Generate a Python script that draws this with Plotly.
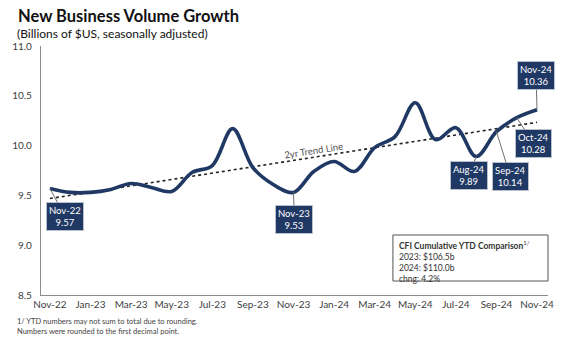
import numpy as np
import plotly.graph_objects as go

months = ["Nov-22", "Dec-22", "Jan-23", "Feb-23", "Mar-23", "Apr-23", "May-23", "Jun-23",
          "Jul-23", "Aug-23", "Sep-23", "Oct-23", "Nov-23", "Dec-23", "Jan-24", "Feb-24",
          "Mar-24", "Apr-24", "May-24", "Jun-24", "Jul-24", "Aug-24", "Sep-24", "Oct-24", "Nov-24"]
volume = [9.57, 9.53, 9.53, 9.56, 9.62, 9.58, 9.54, 9.73, 9.80, 10.17, 9.78, 9.61, 9.53,
          9.74, 9.84, 9.74, 9.98, 10.09, 10.43, 10.06, 10.18, 9.89, 10.14, 10.28, 10.36]
tick_labels = months[::2]
labelled = ["Nov-22", "Nov-23", "Aug-24", "Sep-24", "Oct-24", "Nov-24"]
label_offsets = {"Nov-22": (15, 28), "Nov-23": (1, 27), "Aug-24": (-7, 19),
                 "Sep-24": (14, 45), "Oct-24": (17, 26), "Nov-24": (-1, -34)}
ytd_lines = ["2023: $106.5b", "2024: $110.0b", "chng: 4.2%"]

NAVY = "#1F3864"
W, H = 569, 348
L, R, T, B = 38, 21, 46, 53
pw, ph = W - L - R, H - T - B


def px(xp):
    return (xp - L) / pw


def py(yp):
    return (H - B - yp) / ph


idx = np.arange(len(months))
slope, intercept = np.polyfit(idx, volume, 1)
trend = slope * idx + intercept

fig = go.Figure()
fig.add_trace(go.Scatter(x=idx, y=trend, mode="lines",
                         line=dict(color="#222222", width=1.6, dash="dot"),
                         hoverinfo="skip", showlegend=False))
fig.add_trace(go.Scatter(x=idx, y=volume, mode="lines",
                         line=dict(color=NAVY, width=3.6, shape="spline", smoothing=1.0),
                         showlegend=False))

for m in labelled:
    i = months.index(m)
    ax, ay = label_offsets[m]
    fig.add_annotation(
        x=i, y=volume[i], xref="x", yref="y",
        text=f"{m}<br>{volume[i]:.2f}", showarrow=True, arrowhead=0, arrowwidth=1,
        arrowcolor="#6f6f6f", ax=ax, ay=ay, standoff=0,
        bgcolor=NAVY, bordercolor="#b8c0cc", borderwidth=1, borderpad=2,
        font=dict(family="Lato", size=9.5, color="white"), align="center")

# trend label
mid = 13.0
fig.add_annotation(x=mid, y=slope * mid + intercept + 0.07, xref="x", yref="y",
                   text="2yr Trend Line", showarrow=False, textangle=-8.8,
                   font=dict(family="Lato", size=9.5, color="#555555"))

# YTD comparison box
fig.add_shape(type="rect", xref="paper", yref="paper", x0=px(392), x1=px(548),
              y0=py(281), y1=py(235), line=dict(color="#555555", width=1))
fig.add_annotation(
    x=px(396), y=py(237), xref="paper", yref="paper", xanchor="left", yanchor="top",
    text="<b>CFI Cumulative YTD Comparison</b><sup>1/</sup><br>" + "<br>".join(ytd_lines),
    showarrow=False, align="left",
    font=dict(family="Lato", size=8.5, color="#333333"))

# title, subtitle, footnote
fig.add_annotation(x=px(13), y=py(16), xref="paper", yref="paper", xanchor="left",
                   yanchor="middle", showarrow=False, text="<b>New Business Volume Growth</b>",
                   font=dict(family="Lato", size=16.5, color="#111111"))
fig.add_annotation(x=px(12), y=py(33), xref="paper", yref="paper", xanchor="left",
                   yanchor="middle", showarrow=False,
                   text="(Billions of $US, seasonally adjusted)",
                   font=dict(family="Lato", size=12, color="#111111"))
fig.add_annotation(x=px(12), y=py(326), xref="paper", yref="paper", xanchor="left",
                   yanchor="middle", showarrow=False,
                   text="1/ YTD numbers may not sum to total due to rounding.<br>"
                        "Numbers were rounded to the first decimal point.",
                   align="left", font=dict(family="Lato", size=7.5, color="#444444"))

fig.update_layout(
    width=W, height=H, margin=dict(l=L, r=R, t=T, b=B),
    paper_bgcolor="white", plot_bgcolor="white",
    xaxis=dict(range=[-0.44, 24.54], tickmode="array", tickvals=idx[::2],
               ticktext=tick_labels, showgrid=False, zeroline=False,
               showline=True, linecolor="#8c8c8c", linewidth=1.2, ticks="",
               tickfont=dict(family="Lato", size=10, color="#404040")),
    yaxis=dict(range=[8.5, 11.0], tickmode="array", tickvals=[8.5, 9.0, 9.5, 10.0, 10.5, 11.0],
               ticktext=["8.5", "9.0", "9.5", "10.0", "10.5", "11.0"],
               showgrid=False, zeroline=False, showline=True, linecolor="#8c8c8c",
               linewidth=1.2, ticks="", ticklabelstandoff=6,
               tickfont=dict(family="Lato", size=10, color="#404040")),
)

fig.write_html("out.html")
